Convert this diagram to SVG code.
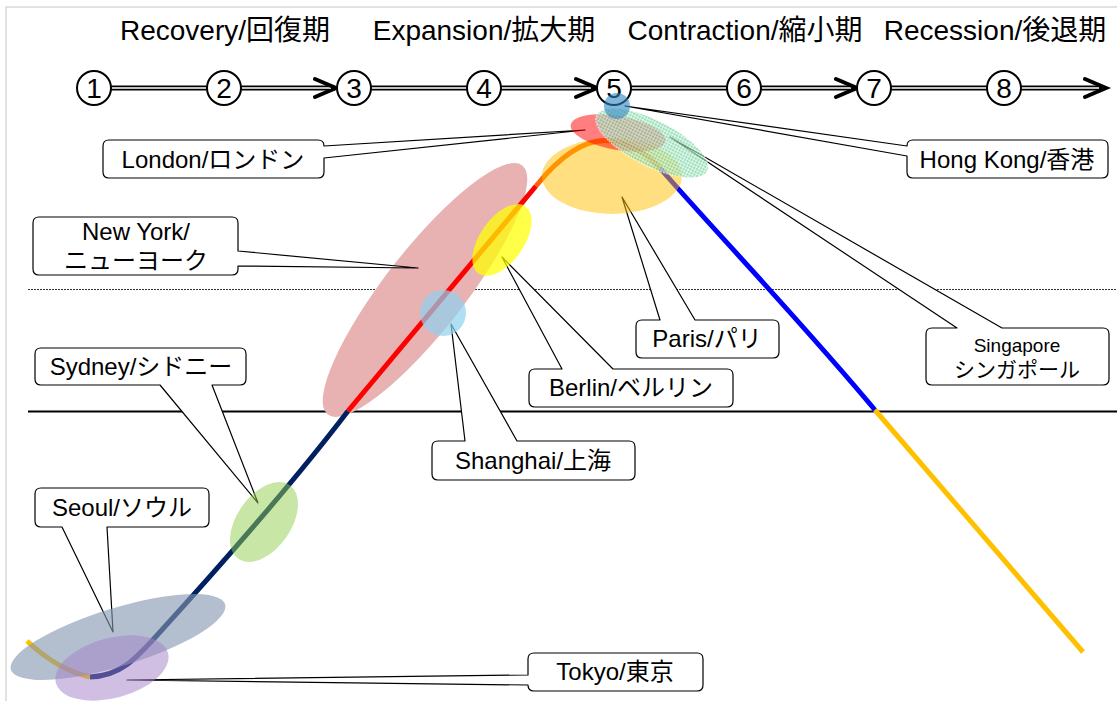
<svg xmlns="http://www.w3.org/2000/svg" width="1117" height="701" viewBox="0 0 1117 701">
<style>
.t{font-family:"Liberation Sans","Noto Sans CJK JP",sans-serif;fill:#000;text-anchor:middle}
.title{font-size:28px}
.num{font-size:28px}
.lab{font-size:24px}
.co{fill:#fff;stroke:#000;stroke-width:1.2;stroke-linejoin:round}
.dbl-o{stroke:#000;stroke-width:5;fill:none}
.dbl-i{stroke:#fff;stroke-width:1.6;fill:none}
.chev{stroke:#000;stroke-width:4;fill:none;stroke-linecap:round;stroke-linejoin:miter}
.nc{fill:#fff;stroke:#000;stroke-width:2}
.cv{fill:none;stroke-width:5}
</style>
<defs>
<pattern id="hatch" width="3" height="3" patternUnits="userSpaceOnUse">
<rect width="3" height="3" fill="#6fd49e"/>
<path d="M0,0.5H3M0.5,0V3" stroke="#e8f8ee" stroke-width="0.8"/>
</pattern>
</defs>
<rect x="0" y="0" width="1117" height="701" fill="#fff"/>
<rect x="6" y="7" width="1130" height="720" fill="none" stroke="#d9d9d9" stroke-width="1.5"/>
<g id="titles">
<text class="t title" x="225" y="40">Recovery/回復期</text>
<text class="t title" x="484" y="40">Expansion/拡大期</text>
<text class="t title" x="745" y="40">Contraction/縮小期</text>
<text class="t title" x="995" y="40">Recession/後退期</text>
</g>
<line x1="28" y1="289.5" x2="1117" y2="289.5" stroke="#000" stroke-width="0.8" stroke-dasharray="2,1"/>
<line x1="28" y1="411.5" x2="1117" y2="411.5" stroke="#000" stroke-width="2"/>
<g id="connectors">
<g id="timeline">
<path class="dbl-o" d="M111,88H207M241,88H335M371,88H467M501,88H595M631,88H727M761,88H855M891,88H987M1021,88H1103"/>
<path class="dbl-i" d="M111,88H207M241,88H331M371,88H467M501,88H591M631,88H727M761,88H851M891,88H987M1021,88H1099"/>
<path class="chev" d="M315,79L336,88L315,97M576,79L597,88L576,97M836,79L857,88L836,97M1085,79L1106,88L1085,97"/>
</g>
</g>
<g id="steps">
<g id="s1"><circle class="nc" cx="94" cy="88" r="17"/><text class="t num" x="94" y="98">1</text></g>
<g id="s2"><circle class="nc" cx="224" cy="88" r="17"/><text class="t num" x="224" y="98">2</text></g>
<g id="s3"><circle class="nc" cx="354" cy="88" r="17"/><text class="t num" x="354" y="98">3</text></g>
<g id="s4"><circle class="nc" cx="484" cy="88" r="17"/><text class="t num" x="484" y="98">4</text></g>
<g id="s5"><circle class="nc" cx="614" cy="88" r="17"/><text class="t num" x="614" y="98">5</text></g>
<g id="s6"><circle class="nc" cx="744" cy="88" r="17"/><text class="t num" x="744" y="98">6</text></g>
<g id="s7"><circle class="nc" cx="874" cy="88" r="17"/><text class="t num" x="874" y="98">7</text></g>
<g id="s8"><circle class="nc" cx="1004" cy="88" r="17"/><text class="t num" x="1004" y="98">8</text></g>
</g>
<g id="newyork-area"><ellipse cx="425" cy="290" rx="158" ry="40" transform="rotate(-52 425 290)" fill="#e8b2b2"/></g>
<g id="callouts">
<g id="london"><path class="co" d="M109,140H318Q324,140 324,146L585,130L324,158V172Q324,178 318,178H109Q103,178 103,172V146Q103,140 109,140Z"/><text class="t lab" x="213" y="168">London/ロンドン</text></g>
<g id="newyork"><path class="co" d="M39,217H232Q238,217 238,223V251L418,268L238,266V269Q238,275 232,275H39Q33,275 33,269V223Q33,217 39,217Z"/><text class="t lab" x="136" y="240">New York/</text><text class="t lab" x="136" y="269">ニューヨーク</text></g>
<g id="sydney"><path class="co" d="M41,348H240Q246,348 246,354V379Q246,385 240,385H212L258,503L160,385H41Q35,385 35,379V354Q35,348 41,348Z"/><text class="t lab" x="141" y="375">Sydney/シドニー</text></g>
<g id="seoul"><path class="co" d="M41,488H203Q209,488 209,494V521Q209,527 203,527H107L113,632L62,527H41Q35,527 35,521V494Q35,488 41,488Z"/><text class="t lab" x="122" y="516">Seoul/ソウル</text></g>
<g id="tokyo"><path class="co" d="M534,653H697Q703,653 703,659V685Q703,691 697,691H534Q528,691 528,685L127,680L528,675V659Q528,653 534,653Z"/><text class="t lab" x="615" y="680">Tokyo/東京</text></g>
<g id="shanghai"><path class="co" d="M438,441H465L451,324L517,441H629Q635,441 635,447V474Q635,480 629,480H438Q432,480 432,474V447Q432,441 438,441Z"/><text class="t lab" x="533" y="469">Shanghai/上海</text></g>
<g id="berlin"><path class="co" d="M535,369H562L502,257L613,369H727Q733,369 733,375V401Q733,407 727,407H535Q529,407 529,401V375Q529,369 535,369Z"/><text class="t lab" x="631" y="396">Berlin/ベルリン</text></g>
<g id="paris"><path class="co" d="M642,320H660L622,197L695,320H773Q779,320 779,326V352Q779,358 773,358H642Q636,358 636,352V326Q636,320 642,320Z"/><text class="t lab" x="707" y="347">Paris/パリ</text></g>
<g id="hongkong"><path class="co" d="M913,140H1102Q1108,140 1108,146V172Q1108,178 1102,178H913Q907,178 907,172V156L625,106L907,146Q907,140 913,140Z"/><text class="t lab" x="1007" y="168">Hong Kong/香港</text></g>
<g id="singapore"><path class="co" d="M932,328H957L670,137L1002,328H1103Q1109,328 1109,334V379Q1109,385 1103,385H932Q926,385 926,379V334Q926,328 932,328Z"/><text class="t" style="font-size:19px" x="1017" y="352">Singapore</text><text class="t" style="font-size:21px" x="1017" y="377">シンガポール</text></g>
</g>
<g id="curve">
<path class="cv" stroke="#ffc000" d="M27,641Q58,670 90,677"/>
<path class="cv" stroke="#002060" d="M90,677C120,676 135,660 160,632C200,588 280,500 348,411"/>
<path class="cv" stroke="#ff0000" d="M348,411L536,186"/>
<path class="cv" stroke="#ff6600" d="M536,186C565,150 590,138 612,141C632,144 648,155 660,168"/>
<path class="cv" stroke="#0000ff" d="M660,168C700,215 800,320 875,410"/>
<path class="cv" stroke="#ffc000" d="M875,410L1083,652"/>
</g>
<g id="areas">
<g id="sydney-area"><ellipse cx="264" cy="522" rx="45" ry="27" transform="rotate(-55 264 522)" fill="#92d050" opacity="0.5"/></g>
<g id="seoul-area"><ellipse cx="118" cy="637" rx="112" ry="29" transform="rotate(-17 118 637)" fill="#8496b0" opacity="0.62"/></g>
<g id="tokyo-area"><ellipse cx="112" cy="668" rx="58" ry="30" transform="rotate(-15 112 668)" fill="#a37fc8" opacity="0.5"/></g>
<g id="shanghai-area"><circle cx="443" cy="313" r="23" fill="#8fd2f0" opacity="0.7"/></g>
<g id="berlin-area"><ellipse cx="502" cy="240" rx="41" ry="22" transform="rotate(-55 502 240)" fill="#ffff00" opacity="0.72"/></g>
<g id="paris-area"><ellipse cx="612" cy="176" rx="70" ry="38" fill="#ffc000" opacity="0.5"/></g>
<g id="london-area"><ellipse cx="618" cy="133" rx="48" ry="17" transform="rotate(10 618 133)" fill="#ff0000" opacity="0.5"/></g>
<g id="singapore-area"><ellipse cx="652" cy="143" rx="62" ry="23" transform="rotate(27 652 143)" fill="url(#hatch)" opacity="0.7" stroke="#fff" stroke-width="1" stroke-dasharray="2,1"/></g>
<g id="hongkong-area"><circle cx="617" cy="106" r="13" fill="#2e86c1" opacity="0.6"/></g>
</g>
</svg>
